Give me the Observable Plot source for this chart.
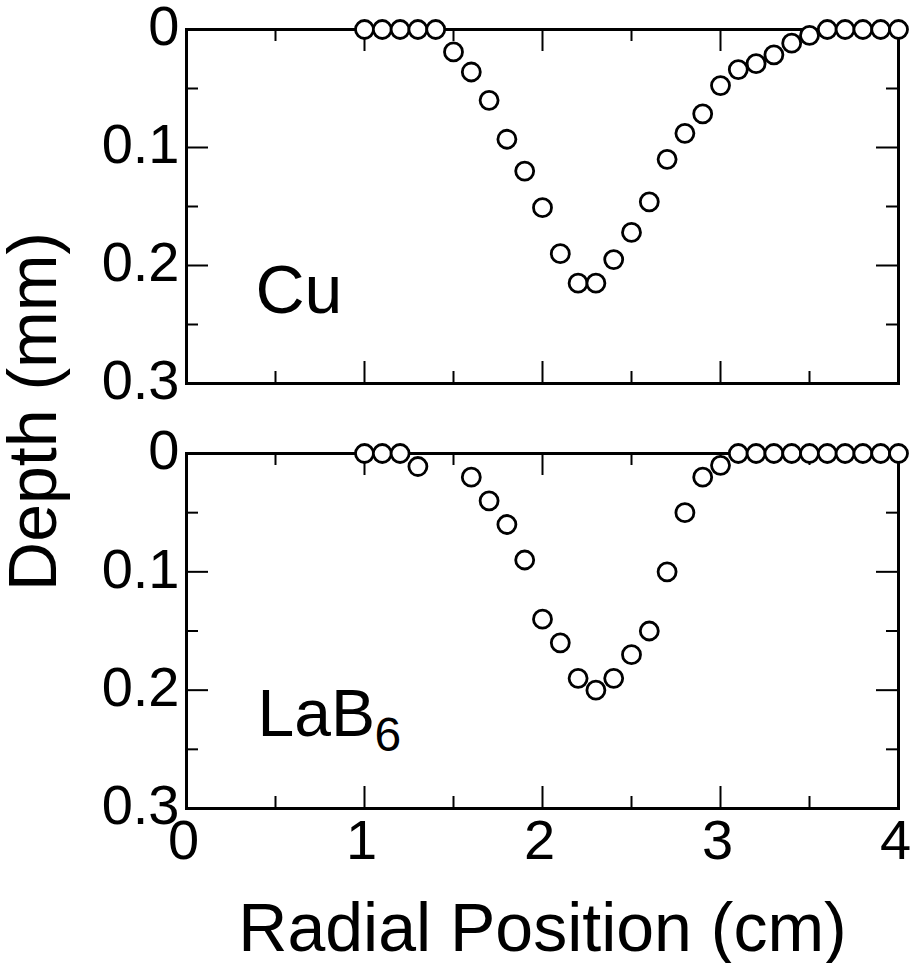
<!DOCTYPE html>
<html>
<head>
<meta charset="utf-8">
<script src="https://cdn.jsdelivr.net/npm/d3@7"></script>
<script src="https://cdn.jsdelivr.net/npm/@observablehq/plot@0.6"></script>
<style>
  html, body { margin: 0; padding: 0; background: white; }
  #chart { position: relative; width: 911px; height: 963px; }
  #chart svg { display: block; position: absolute; left: 0; top: 0; }
</style>
</head>
<body>
<div id="chart"></div>
<script>
// ---- data ----
const cuX = [1.0,1.1,1.2,1.3,1.4,1.5,1.6,1.7,1.8,1.9,2.0,2.1,2.2,2.3,2.4,2.5,2.6,2.7,2.8,2.9,3.0,3.1,3.2,3.3,3.4,3.5,3.6,3.7,3.8,3.9,4.0];
const cuDepth = [0,0,0,0,0,0.019,0.036,0.060,0.093,0.120,0.151,0.190,0.215,0.215,0.195,0.172,0.146,0.110,0.088,0.0715,0.0475,0.034,0.029,0.0215,0.0116,0.005,0,0,0,0,0];
const labX = [1.0,1.1,1.2,1.3,1.6,1.7,1.8,1.9,2.0,2.1,2.2,2.3,2.4,2.5,2.6,2.7,2.8,2.9,3.0,3.1,3.2,3.3,3.4,3.5,3.6,3.7,3.8,3.9,4.0];
const labDepth = [0,0,0,0.011,0.02,0.04,0.06,0.09,0.14,0.16,0.19,0.20,0.19,0.17,0.15,0.10,0.05,0.02,0.01,0,0,0,0,0,0,0,0,0,0];
const xMajor = [0,1,2,3,4];
const xMinor = [0.5,1.5,2.5,3.5];
const yMajor = [0,0.1,0.2,0.3];
const yMinor = [0.05,0.15,0.25];
const xTickLabels = ["0","1","2","3","4"];
const yTickLabels = ["0","0.1","0.2","0.3"];
const xTitle = "Radial Position (cm)";
const yTitle = "Depth (mm)";
const panel1Label = "Cu";
const panel2Label = ["LaB", "6"];

// ---- layout ----
const W = 911, H = 963;
const mL = 186, mR = 13;
const innerW = W - mL - mR;
const font = "'Liberation Sans', Arial, Helvetica, sans-serif";

function toRows(xs, ys) { return xs.map((x, i) => ({x, y: ys[i]})); }

function tickMarks(innerH) {
  const majX = 22, minX = 12;
  return [
    Plot.tickY(yMajor, {y: d => d, insetRight: innerW - majX, strokeWidth: 2}),
    Plot.tickY(yMinor, {y: d => d, insetRight: innerW - minX, strokeWidth: 2}),
    Plot.tickY(yMajor, {y: d => d, insetLeft: innerW - majX, strokeWidth: 2}),
    Plot.tickY(yMinor, {y: d => d, insetLeft: innerW - minX, strokeWidth: 2}),
    Plot.tickX(xMajor, {x: d => d, insetBottom: innerH - majX, strokeWidth: 2}),
    Plot.tickX(xMinor, {x: d => d, insetBottom: innerH - minX, strokeWidth: 2}),
    Plot.tickX(xMajor, {x: d => d, insetTop: innerH - majX, strokeWidth: 2}),
    Plot.tickX(xMinor, {x: d => d, insetTop: innerH - minX, strokeWidth: 2})
  ];
}

function yAxis() {
  return Plot.axisY({
    anchor: "left", ticks: yMajor, tickSize: 0, tickPadding: 7, dy: -2,
    tickFormat: d => yTickLabels[yMajor.indexOf(d)],
    fontSize: 56, label: null
  });
}

function dots(rows) {
  return Plot.dot(rows, {x: "x", y: "y", r: 9, stroke: "black", strokeWidth: 2.8, fill: "white"});
}

const baseStyle = {fontFamily: font, background: "transparent", color: "black"};

// ---- top panel (Cu) ----
const mT1 = 29, mB1 = H - 383;
const p1 = Plot.plot({
  width: W, height: H,
  marginLeft: mL, marginRight: mR, marginTop: mT1, marginBottom: mB1,
  style: baseStyle,
  x: {domain: [0, 4], axis: null},
  y: {domain: [0, 0.3], reverse: true, axis: null},
  marks: [
    Plot.frame({strokeWidth: 3, stroke: "black"}),
    ...tickMarks(H - mT1 - mB1),
    yAxis(),
    Plot.text([panel1Label], {frameAnchor: "top-left", text: d => d, textAnchor: "start", lineAnchor: "bottom", dx: 69, dy: 283, fontSize: 68, fill: "black"}),
    dots(toRows(cuX, cuDepth))
  ]
});

// ---- bottom panel (LaB6) ----
const mT2 = 453, mB2 = H - 808;
const p2 = Plot.plot({
  width: W, height: H,
  marginLeft: mL, marginRight: mR, marginTop: mT2, marginBottom: mB2,
  style: baseStyle,
  x: {domain: [0, 4], axis: null},
  y: {domain: [0, 0.3], reverse: true, axis: null},
  marks: [
    Plot.frame({strokeWidth: 3, stroke: "black"}),
    ...tickMarks(H - mT2 - mB2),
    yAxis(),
    Plot.axisX({
      anchor: "bottom", ticks: xMajor, tickSize: 0, tickPadding: 11, dx: -3,
      tickFormat: d => xTickLabels[xMajor.indexOf(d)],
      fontSize: 56, label: null
    }),
    Plot.text([panel2Label[0]], {frameAnchor: "top-left", text: d => d, textAnchor: "start", lineAnchor: "bottom", dx: 71, dy: 282, fontSize: 66, fill: "black"}),
    Plot.text([panel2Label[1]], {frameAnchor: "top-left", text: d => d, textAnchor: "start", lineAnchor: "bottom", dx: 188, dy: 297, fontSize: 48, fill: "black"}),
    Plot.text([xTitle], {frameAnchor: "bottom", text: d => d, textAnchor: "middle", lineAnchor: "bottom", dy: 142, fontSize: 68, fill: "black"}),
    Plot.text([yTitle], {frameAnchor: "top-left", text: d => d, textAnchor: "middle", lineAnchor: "bottom", rotate: -90, dx: 55 - mL, dy: 411 - mT2, fontSize: 68, fill: "black"}),
    dots(toRows(labX, labDepth))
  ]
});

const chart = document.getElementById("chart");
chart.appendChild(p1);
chart.appendChild(p2);
</script>
</body>
</html>
